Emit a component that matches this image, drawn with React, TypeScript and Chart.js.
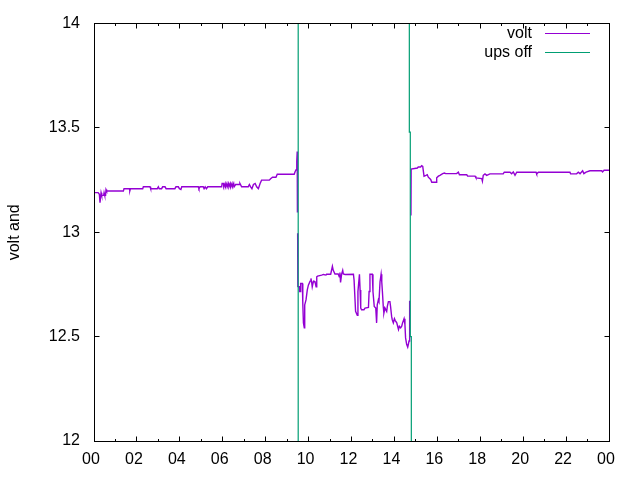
import React, { useEffect, useRef } from "react";
import { Chart, registerables } from "chart.js";

Chart.register(...registerables);

// ---- data (hours of day, volts) ----
const seriesNames = ["volt", "ups off"];
const seriesColors = ["#9400d3", "#009e73"];
const yAxisTitle = "volt and";
const xTickLabels = ["00", "02", "04", "06", "08", "10", "12", "14", "16", "18", "20", "22", "00"];
const yTickLabels = ["12", "12.5", "13", "13.5", "14"];
const xMin = 0;
const xMax = 24;
const yMin = 12;
const yMax = 14;
const yStep = 0.5;

const voltHours = [
  0.0, 0.19, 0.25, 0.28, 0.31, 0.33, 0.36, 0.45, 0.47, 0.5, 0.54, 0.56, 0.59, 1.37, 1.4, 1.65, 1.67, 1.7,
  2.27, 2.3, 2.61, 2.64, 2.95, 3.0, 3.04, 3.15, 3.2, 3.31, 3.36, 3.77, 3.82, 3.93, 3.98, 4.05, 4.09,
  4.86, 4.89, 4.94, 5.09, 5.13, 5.18, 5.24, 5.3, 5.95, 5.97, 6.03, 6.05, 6.11, 6.13, 6.19, 6.21, 6.27,
  6.29, 6.35, 6.37, 6.43, 6.45, 6.51, 6.53, 6.6, 6.62, 6.77, 6.8, 6.88, 7.19, 7.24, 7.3, 7.36, 7.43,
  7.51, 7.58, 7.66, 7.74, 7.81, 8.17, 8.23, 8.32, 8.48, 8.54, 9.33, 9.37, 9.42, 9.45, 9.47, 9.48,
  9.485, 9.49, 9.5,
  9.52, 9.57, 9.58, 9.6, 9.63, 9.71, 9.73, 9.76, 9.8, 9.82, 9.88, 9.94, 9.99, 10.07, 10.11, 10.14,
  10.17, 10.22, 10.25, 10.3, 10.35, 10.38, 10.42, 10.61, 10.69, 10.81, 10.84, 11.03, 11.11, 11.15,
  11.23, 11.38, 11.43, 11.46, 11.49, 11.54, 11.59, 11.62, 11.7, 12.09, 12.12, 12.19, 12.27, 12.3,
  12.37, 12.4, 12.43, 12.47, 12.58, 12.63, 12.79, 12.82, 12.86, 12.97, 13.0, 13.06, 13.13, 13.17,
  13.2, 13.25, 13.28, 13.33, 13.38, 13.41, 13.44, 13.48, 13.51, 13.56, 13.64, 13.67, 13.72, 13.79,
  13.82, 13.87, 13.9, 13.95, 14.0, 14.04, 14.11, 14.15, 14.19, 14.23, 14.29, 14.34, 14.38, 14.45,
  14.49, 14.52, 14.57, 14.62, 14.65, 14.68, 14.7, 14.72, 14.745, 14.77, 14.78,
  14.8, 15.07, 15.11, 15.22, 15.27, 15.32, 15.35, 15.38, 15.47, 15.53, 15.58, 15.69, 15.74, 15.94,
  15.97, 16.05, 16.12, 16.25, 16.33, 16.39, 16.9, 16.98, 17.03, 17.37, 17.41, 17.76, 17.8, 18.07,
  18.1, 18.14, 18.22, 18.3, 18.45, 19.07, 19.12, 19.39, 19.46, 19.54, 19.62, 19.7, 20.6, 20.63,
  20.71, 22.18, 22.21, 22.49, 22.57, 22.65, 22.77, 22.83, 22.93, 23.11, 23.66, 23.7, 23.77, 24.0,
];

const voltValues = [
  13.19, 13.19, 13.182, 13.142, 13.142, 13.19, 13.177, 13.177, 13.19, 13.177, 13.177, 13.205, 13.198,
  13.198, 13.209, 13.209, 13.198, 13.209, 13.209, 13.218, 13.218, 13.209, 13.209, 13.218, 13.209,
  13.209, 13.218, 13.218, 13.209, 13.209, 13.218, 13.218, 13.209, 13.205, 13.218, 13.218, 13.209,
  13.218, 13.218, 13.209, 13.218, 13.209, 13.218, 13.218, 13.234, 13.234, 13.218, 13.234, 13.218,
  13.234, 13.218, 13.234, 13.218, 13.234, 13.218, 13.234, 13.218, 13.234, 13.218, 13.229, 13.229,
  13.229, 13.234, 13.218, 13.218, 13.229, 13.218, 13.209, 13.229, 13.234, 13.218, 13.209, 13.234,
  13.25, 13.25, 13.257, 13.264, 13.264, 13.278, 13.278, 13.29, 13.3, 13.34, 13.387, 13.095, null,
  12.995, 12.74,
  12.739, 12.739, 12.716, 12.716, 12.755, 12.755, 12.66, 12.566, 12.542, 12.652, 12.676, 12.724,
  12.747, 12.766, 12.779, 12.763, 12.739, 12.763, 12.766, 12.763, 12.739, 12.787, 12.79, 12.795,
  12.798, 12.795, 12.799, 12.799, 12.837, 12.818, 12.8, 12.8, 12.787, 12.807, 12.76, 12.8, 12.818,
  12.8, 12.798, 12.799, 12.771, 12.621, 12.602, 12.716, 12.799, 12.724, 12.637, 12.629, 12.629,
  12.637, 12.64, 12.716, 12.799, 12.799, 12.716, 12.645, 12.637, 12.566, 12.652, 12.676, 12.668,
  12.763, 12.799, 12.763, 12.716, 12.645, 12.613, 12.637, 12.621, 12.645, 12.668, 12.668, 12.645,
  12.597, 12.581, 12.566, 12.586, 12.577, 12.566, 12.55, 12.534, 12.55, 12.542, 12.55, 12.566,
  12.586, 12.558, 12.494, 12.463, 12.45, 12.463, 12.479, 12.672, 12.49, null, 13.08, 13.303,
  13.303, 13.308, 13.313, 13.313, 13.319, 13.316, 13.292, 13.269, 13.273, 13.276, 13.264, 13.253,
  13.24, 13.24, 13.261, 13.269, 13.273, 13.281, 13.284, 13.281, 13.281, 13.288, 13.276, 13.276,
  13.269, 13.269, 13.261, 13.257, 13.245, 13.273, 13.28, 13.273, 13.28, 13.28, 13.288, 13.288,
  13.281, 13.289, 13.273, 13.288, 13.288, 13.28, 13.288, 13.288, 13.28, 13.28, 13.288, 13.281,
  13.295, 13.281, 13.288, 13.295, 13.295, 13.289, 13.297, 13.297,
];

const upsHours = [0, 9.516, 9.516, 14.695, 14.695, 14.74, 14.74, 14.788, 14.788, 24];
const upsValues = [0, 0, 20, 20, 13.48, 13.48, 12.5, 12.5, 0, 0];

const FONT_FAMILY = '"Liberation Sans", Arial, Helvetica, sans-serif';

const gnuplotFrame = {
  id: "gnuplotFrame",
  afterDraw(chart: any) {
    const { ctx, chartArea: a, scales } = chart;
    const xs = scales.x;
    const ys = scales.y;
    const L = Math.floor(a.left) + 0.5;
    const R = Math.floor(a.right) + 0.5;
    const T = Math.floor(a.top) + 0.5;
    const B = Math.floor(a.bottom) + 0.5;
    ctx.save();
    ctx.strokeStyle = "#000";
    ctx.lineWidth = 1;
    ctx.beginPath();
    xs.ticks.forEach((t: any) => {
      const v = Math.round(t.value);
      const px = Math.floor(xs.getPixelForValue(v)) + 0.5;
      const len = v % 2 === 0 ? 5 : 2.5;
      ctx.moveTo(px, B);
      ctx.lineTo(px, B - len);
      ctx.moveTo(px, T);
      ctx.lineTo(px, T + len);
    });
    ys.ticks.forEach((t: any) => {
      const py = Math.floor(ys.getPixelForValue(t.value)) + 0.5;
      ctx.moveTo(L, py);
      ctx.lineTo(L + 5, py);
      ctx.moveTo(R, py);
      ctx.lineTo(R - 5, py);
    });
    ctx.stroke();
    ctx.strokeRect(L, T, R - L, B - T);

    ctx.font = `16px ${FONT_FAMILY}`;
    ctx.textAlign = "right";
    ctx.textBaseline = "middle";
    const rows = [33.5, 52.5];
    seriesNames.forEach((name, i) => {
      const y = rows[i];
      ctx.fillStyle = "#000";
      ctx.fillText(name, 532, y + 0.5);
      ctx.strokeStyle = seriesColors[i];
      ctx.lineWidth = 1;
      ctx.beginPath();
      ctx.moveTo(545, Math.floor(y) + 0.5);
      ctx.lineTo(590, Math.floor(y) + 0.5);
      ctx.stroke();
    });
    ctx.restore();
  },
};

export default function App() {
  const canvasRef = useRef<HTMLCanvasElement | null>(null);

  useEffect(() => {
    if (!canvasRef.current) return;
    const voltData = voltHours.map((h, i) => ({ x: h, y: voltValues[i] }));
    const upsData = upsHours.map((h, i) => ({ x: h, y: upsValues[i] }));
    const font = { family: FONT_FAMILY, size: 16 };
    const chart = new Chart(canvasRef.current, {
      type: "line",
      data: {
        datasets: [
          {
            label: seriesNames[0],
            data: voltData,
            borderColor: seriesColors[0],
            backgroundColor: seriesColors[0],
            borderWidth: 1.4,
            pointRadius: 0,
            tension: 0,
            spanGaps: false,
            order: 1,
          },
          {
            label: seriesNames[1],
            data: upsData,
            borderColor: seriesColors[1],
            backgroundColor: seriesColors[1],
            borderWidth: 1.2,
            pointRadius: 0,
            tension: 0,
            order: 0,
          },
        ],
      },
      options: {
        animation: false,
        responsive: false,
        devicePixelRatio: 1,
        events: [],
        layout: { padding: { top: 19, right: 31, left: 0, bottom: 0 } },
        plugins: {
          legend: { display: false },
          tooltip: { enabled: false },
        },
        scales: {
          x: {
            type: "linear",
            min: xMin,
            max: xMax,
            afterFit: (s: any) => {
              s.height = 39;
            },
            grid: { display: false, drawTicks: false },
            border: { display: false },
            ticks: {
              stepSize: 1,
              autoSkip: false,
              maxRotation: 0,
              padding: 9,
              labelOffset: -3,
              color: "#000",
              font,
              callback: (v: any) => {
                const n = Math.round(Number(v));
                return n % 2 === 0 ? xTickLabels[n / 2] : "";
              },
            },
          },
          y: {
            type: "linear",
            min: yMin,
            max: yMax,
            afterFit: (s: any) => {
              s.width = 94;
            },
            grid: { display: false, drawTicks: false },
            border: { display: false },
            ticks: {
              stepSize: yStep,
              padding: 14,
              color: "#000",
              font,
              callback: (_v: any, i: number) => yTickLabels[i],
            },
            title: {
              display: true,
              text: yAxisTitle,
              color: "#000",
              font,
              padding: { top: 5, bottom: 0 },
            },
          },
        },
      },
      plugins: [gnuplotFrame],
    } as any);
    return () => chart.destroy();
  }, []);

  return (
    <div style={{ position: "fixed", left: 0, top: 0, width: 640, height: 480, background: "#fff" }}>
      <canvas ref={canvasRef} width={640} height={480} style={{ display: "block" }} />
    </div>
  );
}
